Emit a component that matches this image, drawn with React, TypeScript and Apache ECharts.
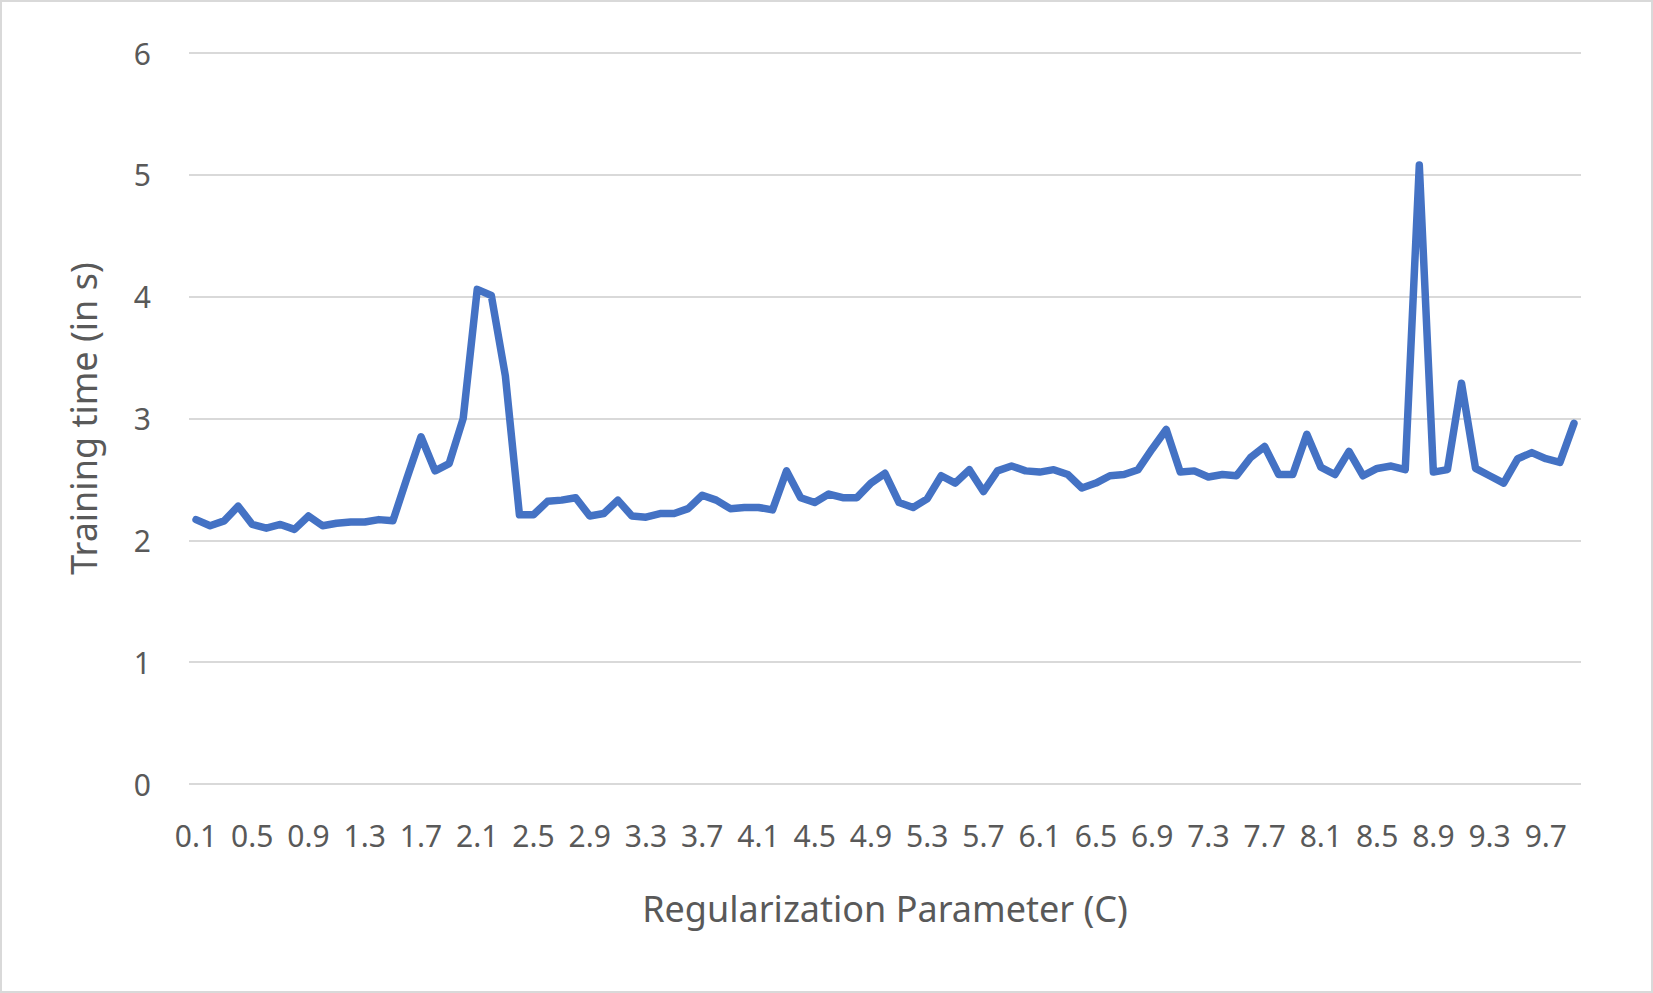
import React, { useEffect, useRef } from "react";
import * as echarts from "echarts";

const categories: string[] = [];
for (let i = 1; i <= 99; i++) categories.push((i / 10).toFixed(1));

const trainingTime = [
  2.17, 2.12, 2.16, 2.28, 2.13, 2.1, 2.13, 2.09, 2.2, 2.12,
  2.14, 2.15, 2.15, 2.17, 2.16, 2.51, 2.85, 2.57, 2.63, 3.0,
  4.06, 4.01, 3.35, 2.21, 2.21, 2.32, 2.33, 2.35, 2.2, 2.22,
  2.33, 2.2, 2.19, 2.22, 2.22, 2.26, 2.37, 2.33, 2.26, 2.27,
  2.27, 2.25, 2.57, 2.35, 2.31, 2.38, 2.35, 2.35, 2.47, 2.55,
  2.31, 2.27, 2.34, 2.53, 2.47, 2.58, 2.4, 2.57, 2.61, 2.57,
  2.56, 2.58, 2.54, 2.43, 2.47, 2.53, 2.54, 2.58, 2.75, 2.91,
  2.56, 2.57, 2.52, 2.54, 2.53, 2.68, 2.77, 2.54, 2.54, 2.87,
  2.6, 2.54, 2.73, 2.53, 2.59, 2.61, 2.58, 5.08, 2.56, 2.58,
  3.29, 2.59, 2.53, 2.47, 2.67, 2.72, 2.67, 2.64, 2.96,
];

export default function App() {
  const ref = useRef<HTMLDivElement>(null);
  useEffect(() => {
    document.body.style.margin = "0";
    const chart = echarts.init(ref.current!, null, { renderer: "svg" });
    const font = "Noto Sans";
    chart.setOption({
      animation: false,
      backgroundColor: "#ffffff",
      grid: { left: 187, right: 70, top: 51, bottom: 207 },
      xAxis: {
        type: "category",
        data: categories,
        boundaryGap: true,
        name: "Regularization Parameter (C)",
        nameLocation: "middle",
        nameGap: 106,
        nameTextStyle: { fontFamily: font, fontSize: 36, color: "#595959" },
        axisLine: { show: false },
        axisTick: { show: false },
        axisLabel: { interval: 3, fontFamily: font, fontSize: 30, color: "#595959", margin: 36 },
      },
      yAxis: {
        type: "value",
        min: 0,
        max: 6,
        interval: 1,
        name: "Training time (in s)",
        nameLocation: "middle",
        nameGap: 88,
        nameTextStyle: { fontFamily: font, fontSize: 36, color: "#595959" },
        axisLine: { show: false },
        axisTick: { show: false },
        axisLabel: { fontFamily: font, fontSize: 30, color: "#595959", margin: 38 },
        splitLine: { lineStyle: { color: "#d9d9d9", width: 2 } },
      },
      series: [
        {
          type: "line",
          data: trainingTime,
          showSymbol: false,
          lineStyle: { color: "#4472C4", width: 7.5, join: "round", cap: "round" },
        },
      ],
    });
    return () => chart.dispose();
  }, []);
  return (
    <div
      ref={ref}
      style={{
        position: "absolute",
        left: 0,
        top: 0,
        width: 1653,
        height: 993,
        boxSizing: "border-box",
        border: "2px solid #d9d9d9",
      }}
    />
  );
}
